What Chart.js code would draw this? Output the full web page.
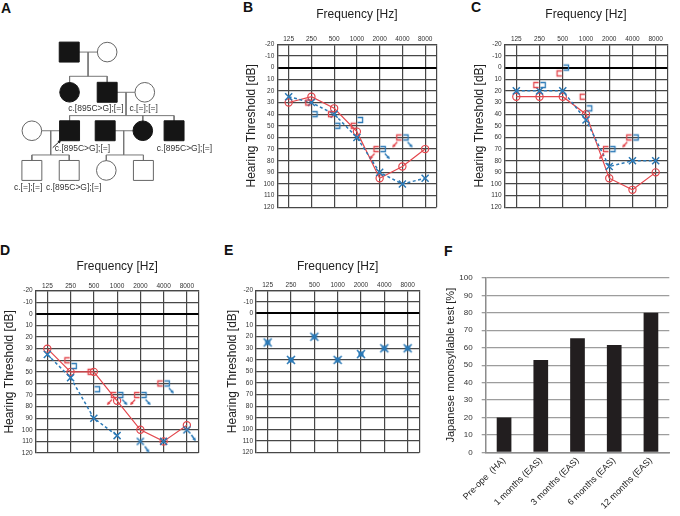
<!DOCTYPE html>
<html><head><meta charset="utf-8">
<script src="https://cdn.jsdelivr.net/npm/chart.js"></script>
<style>
html,body{margin:0;padding:0;background:#fff;}
body{width:680px;height:516px;position:relative;overflow:hidden;font-family:'Liberation Sans',Arial,sans-serif;}
.panel{position:absolute;}
.panel canvas{display:block;}
.lbl{position:absolute;font:bold 14px 'Liberation Sans',Arial,sans-serif;line-height:14px;color:#111;}
</style></head><body>
<div class="lbl" style="left:1px;top:1px">A</div>
<div class="lbl" style="left:243px;top:0px">B</div>
<div class="lbl" style="left:471px;top:0px">C</div>
<div class="lbl" style="left:0px;top:243px">D</div>
<div class="lbl" style="left:224px;top:243px">E</div>
<div class="lbl" style="left:444px;top:244px">F</div>
<div class="panel" style="left:0;top:0;width:230px;height:240px"><canvas id="cA" width="230" height="240" style="width:230px;height:240px"></canvas></div>
<div class="panel" style="left:228px;top:0;width:215px;height:215px"><canvas id="cB" width="215" height="215" style="width:215px;height:215px"></canvas></div>
<div class="panel" style="left:455px;top:0;width:225px;height:215px"><canvas id="cC" width="225" height="215" style="width:225px;height:215px"></canvas></div>
<div class="panel" style="left:0;top:255px;width:205px;height:205px"><canvas id="cD" width="205" height="205" style="width:205px;height:205px"></canvas></div>
<div class="panel" style="left:225px;top:255px;width:205px;height:205px"><canvas id="cE" width="205" height="205" style="width:205px;height:205px"></canvas></div>
<div class="panel" style="left:440px;top:255px;width:240px;height:261px"><canvas id="cF" width="240" height="261" style="width:240px;height:261px"></canvas></div>
<script>
// ---------------- DATA ----------------
const freqLabels = ['125','250','500','1000','2000','4000','8000'];
// Panel B (air conduction, dB HL)
const bRightAC = [30,25,35,55,95,85,70];
const bLeftAC  = [25,30,40,60,90,100,95];
// bone conduction: [frequency index, dB, no-response arrow]
const bRightBC = [[1,30,0],[2,40,0],[3,50,0],[4,70,1],[5,60,1]];
const bLeftBC  = [[1,40,0],[2,50,0],[3,45,0],[4,70,1],[5,60,1]];
// Panel C
const cRightAC = [25,25,25,40,95,105,90];
const cLeftAC  = [20,20,20,45,85,80,80];
const cRightBC = [[1,15,0],[2,5,0],[3,25,0],[4,70,1],[5,60,1]];
const cLeftBC  = [[1,15,0],[2,0,0],[3,35,0],[4,70,0],[5,60,0]];
// Panel D
const dRightAC = [30,50,50,75,100,110,96];
const dLeftAC  = [35,55,90,105,110,110,100];
const dLeftNoResponse = [0,0,0,0,1,0,1];
const dLeftLinked = [1,1,1,0,0,0,0];
const dRightBC = [[1,40,0],[2,50,0],[3,70,1],[4,70,1],[5,60,0]];
const dLeftBC  = [[1,45,0],[2,65,0],[3,70,1],[4,70,1],[5,60,1]];
// Panel E (aided thresholds)
const eAided = [25,40,20,40,35,30,30];
// Panel F
const fCategories = ['Pre-ope  (HA)','1 months (EAS)','3 months (EAS)','6 months (EAS)','12 months (EAS)'];
const fScores = [20,53,65.5,61.5,80];
// Panel A pedigree: [x, y, sex, affected]
const pedPeople = [
  [62.3,42.3,'M',1],[106,42.3,'F',0],
  [62.7,88.3,'F',1],[106,88.3,'M',1],[149.3,88.3,'F',0],
  [19.3,132.3,'F',0],[62.7,132.3,'M',1],[103.7,132.3,'M',1],[147,132.3,'F',1],[183,132.3,'M',1],
  [19.3,177.7,'M',0],[62.3,177.7,'M',0],[105,177.7,'F',0],[147.7,177.7,'M',0]
];
const pedLines = [
  [[62.3,42.3],[106,42.3]],[[84,42.3],[84,70]],[[62.7,70],[106,70]],[[62.7,70],[62.7,88]],[[106,70],[106,88]],
  [[106,88.3],[149.3,88.3]],[[127.7,88.3],[127.7,115]],[[62.7,115],[183,115]],[[62.7,115],[62.7,132]],[[147,115],[147,132]],[[183,115],[183,132]],
  [[19.3,132.3],[62.7,132.3]],[[41,132.3],[41,160]],[[19.3,160],[62.3,160]],[[19.3,160],[19.3,177]],[[62.3,160],[62.3,177]],
  [[103.7,132.3],[147,132.3]],[[125,132.3],[125,160]],[[105,160],[147.7,160]],[[105,160],[105,177]],[[147.7,160],[147.7,177]]
];
const pedGenotypes = [
  [93,107,'c.[895C>G];[=]'],[148,107,'c.[=];[=]'],
  [77.5,152.7,'c.[895C>G];[=]'],[195,152.7,'c.[895C>G];[=]'],
  [15,197.7,'c.[=];[=]'],[67.5,197.7,'c.[895C>G];[=]']
];
const pedProbandArrow = [[43.3,151.7],[51.7,144]];

// ---------------- STYLE ----------------
const RED = '#e3474d', BLUE = '#2b79b6', GRID = '#474747';
const FONT = "'Liberation Sans', Arial, Helvetica, sans-serif";
Chart.defaults.font.family = FONT;
Chart.defaults.animation = false;
Chart.defaults.events = [];
Chart.defaults.plugins.legend.display = false;
Chart.defaults.plugins.tooltip.enabled = false;

function arrowHead(g, x0, y0, x1, y1) {
  g.beginPath(); g.moveTo(x0, y0); g.lineTo(x1, y1); g.stroke();
  const a = Math.atan2(y1 - y0, x1 - x0);
  g.beginPath();
  g.moveTo(x1 + Math.cos(a) * 1.5, y1 + Math.sin(a) * 1.5);
  g.lineTo(x1 + Math.cos(a + 2.4) * 2.6, y1 + Math.sin(a + 2.4) * 2.6);
  g.lineTo(x1 + Math.cos(a - 2.4) * 2.6, y1 + Math.sin(a - 2.4) * 2.6);
  g.closePath(); g.fill();
}
function makeBracket(color, side, arrow) {
  const c = document.createElement('canvas'); c.width = 24; c.height = 24;
  const g = c.getContext('2d'); g.strokeStyle = color; g.fillStyle = color; g.lineWidth = 1.3;
  const cx = 12, cy = 12, h = 2.5;
  g.beginPath();
  if (side === 'L') { g.moveTo(cx + h, cy - h); g.lineTo(cx - h, cy - h); g.lineTo(cx - h, cy + h); g.lineTo(cx + h, cy + h); }
  else { g.moveTo(cx - h, cy - h); g.lineTo(cx + h, cy - h); g.lineTo(cx + h, cy + h); g.lineTo(cx - h, cy + h); }
  g.stroke();
  if (arrow) {
    const d = side === 'L' ? -1 : 1;
    arrowHead(g, cx + d * (h - 0.5), cy + h + 2, cx + d * (h + 3.5), cy + h + 6.5);
  }
  return c;
}
function makeXArrow(color) {
  const c = document.createElement('canvas'); c.width = 28; c.height = 28;
  const g = c.getContext('2d'); g.strokeStyle = color; g.fillStyle = color; g.lineWidth = 1.5;
  const cx = 14, cy = 14, h = 3.5;
  g.beginPath(); g.moveTo(cx - h, cy - h); g.lineTo(cx + h, cy + h); g.moveTo(cx + h, cy - h); g.lineTo(cx - h, cy + h); g.stroke();
  arrowHead(g, cx + 4.5, cy + 5, cx + 8, cy + 10);
  return c;
}
function makeAidedMark(color) {
  const c = document.createElement('canvas'); c.width = 12; c.height = 12;
  const g = c.getContext('2d'); g.strokeStyle = color; g.fillStyle = color; g.lineWidth = 1.6;
  g.fillRect(3.5, 3.5, 5, 5);
  g.beginPath(); g.moveTo(2, 2); g.lineTo(10, 10); g.moveTo(10, 2); g.lineTo(2, 10); g.stroke();
  return c;
}
const IMG = {
  redBr: makeBracket(RED, 'L', false), redBrA: makeBracket(RED, 'L', true),
  blueBr: makeBracket(BLUE, 'R', false), blueBrA: makeBracket(BLUE, 'R', true),
  xArrow: makeXArrow(BLUE), aided: makeAidedMark(BLUE)
};

function audiogram(id, L, s) {
  const ds = [];
  if (s.boneR) ds.push({ data: s.boneR.map(b => ({x: b[0] - 0.14, y: b[1]})), showLine: false, order: 0,
    pointStyle: ctx => s.boneR[ctx.dataIndex][2] ? IMG.redBrA : IMG.redBr, pointRadius: 3 });
  if (s.boneL) ds.push({ data: s.boneL.map(b => ({x: b[0] + 0.14, y: b[1]})), showLine: false, order: 0,
    pointStyle: ctx => s.boneL[ctx.dataIndex][2] ? IMG.blueBrA : IMG.blueBr, pointRadius: 3 });
  if (s.left) ds.push({ data: s.left.map((v, i) => ({x: i, y: v})), showLine: true, order: 1,
    borderColor: BLUE, borderWidth: 1.5, borderDash: [3, 2.5],
    segment: { borderColor: ctx => (s.linked && !s.linked[ctx.p0DataIndex]) ? 'rgba(0,0,0,0)' : BLUE },
    pointStyle: ctx => (s.nr && s.nr[ctx.dataIndex]) ? IMG.xArrow : 'crossRot',
    pointRadius: 5, pointBorderColor: BLUE, pointBackgroundColor: BLUE, pointBorderWidth: 1.5 });
  if (s.right) ds.push({ data: s.right.map((v, i) => ({x: i, y: v})), showLine: true, order: 2,
    borderColor: RED, borderWidth: 1.2, pointStyle: 'circle', pointRadius: 3.6,
    pointBorderColor: RED, pointBackgroundColor: 'rgba(255,255,255,0)', pointBorderWidth: 1.2 });
  if (s.aided) ds.push({ data: s.aided.map((v, i) => ({x: i, y: v})), showLine: false, order: 0,
    pointStyle: IMG.aided, pointRadius: 4 });
  new Chart(document.getElementById(id), {
    type: 'scatter',
    data: { datasets: ds },
    options: {
      responsive: false, maintainAspectRatio: false,
      layout: { padding: { left: 0, top: 0, right: L.padR, bottom: L.padB } },
      scales: {
        x: {
          type: 'linear', position: 'top', min: -0.5, max: 6.5,
          afterBuildTicks: sc => { sc.ticks = [-0.5, 0, 1, 2, 3, 4, 5, 6, 6.5].map(v => ({value: v})); },
          afterFit: sc => { sc.height = L.xH; },
          ticks: { autoSkip: false, maxRotation: 0, padding: 1, color: '#333',
            font: { size: 6.5, family: "'Liberation Sans Narrow','Liberation Sans',Arial,sans-serif" },
            callback: v => Number.isInteger(v) ? freqLabels[v] : '' },
          grid: { color: GRID, lineWidth: 1.2, drawTicks: false },
          border: { color: GRID, width: 1.2 },
          title: { display: true, text: 'Frequency [Hz]', color: '#222', font: { size: 12 }, padding: { top: L.xTP, bottom: 0 } }
        },
        y: {
          type: 'linear', reverse: true, min: -20, max: 120,
          afterFit: sc => { sc.width = L.yW; },
          ticks: { stepSize: 10, padding: 3, color: '#333',
            font: { size: 6.5, family: "'Liberation Sans Narrow','Liberation Sans',Arial,sans-serif" } },
          grid: { drawTicks: false,
            color: c => (c.tick && c.tick.value === 0) ? '#000' : GRID,
            lineWidth: c => (c.tick && c.tick.value === 0) ? 2 : 1.2 },
          border: { color: GRID, width: 1.2 },
          title: { display: true, text: 'Hearing Threshold [dB]', color: '#222', font: { size: 12 }, padding: { top: L.yTP, bottom: 0 } }
        }
      }
    }
  });
}

audiogram('cB', { yW: 49.3, xH: 44.3, padR: 3.7, padB: 7.7, xTP: 7.3, yTP: 16.8 },
  { right: bRightAC, left: bLeftAC, boneR: bRightBC, boneL: bLeftBC });
audiogram('cC', { yW: 49.7, xH: 44.3, padR: 12.7, padB: 7.7, xTP: 7.3, yTP: 17.8 },
  { right: cRightAC, left: cLeftAC, boneR: cRightBC, boneL: cLeftBC });
audiogram('cD', { yW: 35.7, xH: 35.7, padR: 6, padB: 7, xTP: 4.5, yTP: 2.3 },
  { right: dRightAC, left: dLeftAC, nr: dLeftNoResponse, linked: dLeftLinked, boneR: dRightBC, boneL: dLeftBC });
audiogram('cE', { yW: 31, xH: 35.3, padR: 10.7, padB: 7.3, xTP: 4.5, yTP: 0.8 },
  { aided: eAided });

// Panel F
new Chart(document.getElementById('cF'), {
  type: 'bar',
  data: { labels: fCategories, datasets: [{ data: fScores, backgroundColor: '#221e1f', borderWidth: 0, barPercentage: 0.4, categoryPercentage: 1 }] },
  options: {
    responsive: false, maintainAspectRatio: false,
    layout: { padding: { left: 0, top: 23, right: 10.7, bottom: 0 } },
    scales: {
      x: { afterFit: sc => { sc.height = 63.7; },
        grid: { display: false, drawTicks: false }, border: { color: '#8c8c8c', width: 1.5 },
        ticks: { font: { size: 9 }, color: '#222', minRotation: 45, maxRotation: 45, autoSkip: false, padding: 3 } },
      y: { min: 0, max: 100, afterFit: sc => { sc.width = 45.7; },
        ticks: { stepSize: 10, font: { size: 8 }, color: '#333', padding: 9 },
        grid: { color: '#9d9d9d', lineWidth: 1.3, tickLength: 4 },
        border: { color: '#8c8c8c', width: 1.5 },
        title: { display: true, text: 'Japanese monosyllable test [%]', color: '#222', font: { size: 11 }, padding: { top: 4.4, bottom: 0 } } }
    }
  }
});

// Panel A pedigree
const pedDatasets = [{
  data: pedPeople.map(p => ({x: p[0], y: p[1]})), showLine: false, order: 0,
  pointStyle: c => pedPeople[c.dataIndex][2] === 'M' ? 'rect' : 'circle',
  pointRadius: c => pedPeople[c.dataIndex][2] === 'M' ? 14.1 : 9.8,
  pointBackgroundColor: c => pedPeople[c.dataIndex][3] ? '#151515' : '#ffffff',
  pointBorderColor: c => pedPeople[c.dataIndex][3] ? '#151515' : '#666',
  pointBorderWidth: 1
}].concat(pedLines.map(seg => ({
  data: seg.map(p => ({x: p[0], y: p[1]})), showLine: true, order: 1,
  borderColor: '#777', borderWidth: 1, pointRadius: 0
})));
new Chart(document.getElementById('cA'), {
  type: 'scatter',
  data: { datasets: pedDatasets },
  options: {
    responsive: false, maintainAspectRatio: false,
    layout: { padding: 0 },
    scales: { x: { type: 'linear', display: false, min: 0, max: 230 },
              y: { type: 'linear', display: false, min: 0, max: 240, reverse: true } }
  },
  plugins: [{
    id: 'pedText',
    afterDatasetsDraw(chart) {
      const g = chart.ctx, xs = chart.scales.x, ys = chart.scales.y;
      g.save();
      g.fillStyle = '#333'; g.font = "8.5px " + FONT; g.textAlign = 'center'; g.textBaseline = 'middle';
      pedGenotypes.forEach(t => g.fillText(t[2], xs.getPixelForValue(t[0]), ys.getPixelForValue(t[1])));
      g.strokeStyle = '#222'; g.fillStyle = '#222'; g.lineWidth = 1;
      const a = pedProbandArrow;
      arrowHead(g, xs.getPixelForValue(a[0][0]), ys.getPixelForValue(a[0][1]), xs.getPixelForValue(a[1][0]), ys.getPixelForValue(a[1][1]));
      g.restore();
    }
  }]
});
</script>
</body></html>
